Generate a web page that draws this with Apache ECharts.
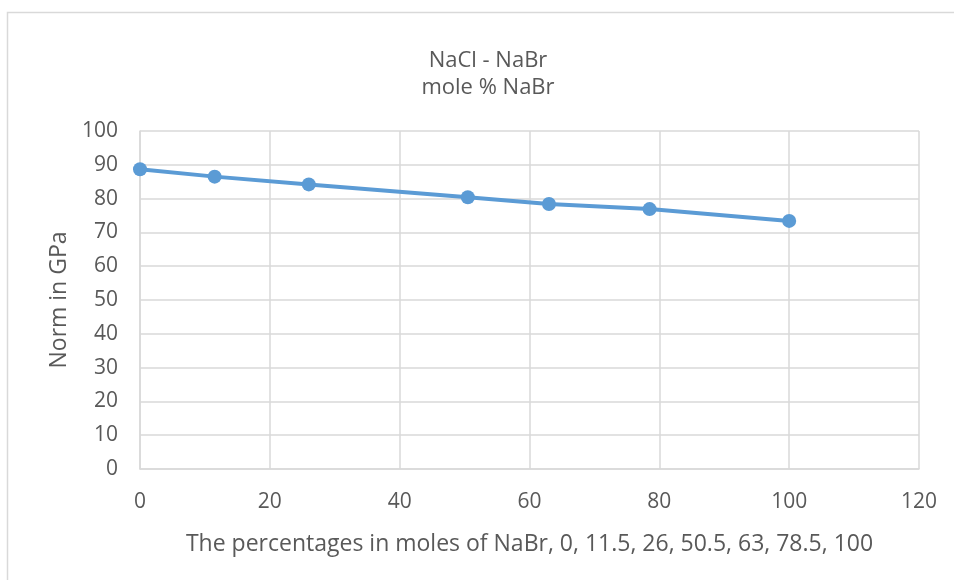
<!DOCTYPE html>
<html>
<head>
<meta charset="utf-8">
<script src="https://cdn.jsdelivr.net/npm/echarts@6/dist/echarts.min.js"></script>
<style>
  html, body { margin: 0; padding: 0; background: #ffffff; }
  #chart { width: 954px; height: 580px; }
</style>
</head>
<body>
<div id="chart"></div>
<script>
// Mole percentage of NaBr in the NaCl - NaBr mixed crystal
const molePercentNaBr = [0, 11.5, 26, 50.5, 63, 78.5, 100];
// Norm values in GPa
const normGPa = [88.7, 86.5, 84.2, 80.4, 78.4, 76.9, 73.4];

const titleLines = ['NaCl - NaBr', 'mole % NaBr'];
const xAxisTitle = 'The percentages in moles of NaBr, 0, 11.5, 26, 50.5, 63, 78.5, 100';
const yAxisTitle = 'Norm in GPa';

const textColor = '#595959';
const gridColor = '#d9d9d9';
const fontFamily = '"Open Sans", "Noto Sans", sans-serif';

const chart = echarts.init(document.getElementById('chart'));
chart.setOption({
  animation: false,
  backgroundColor: '#ffffff',
  graphic: [{
    type: 'rect',
    shape: { x: 7.5, y: 12.5, width: 1000, height: 1000 },
    style: { fill: 'none', stroke: gridColor, lineWidth: 1.5 },
    silent: true
  }],
  title: {
    text: titleLines.join('\n'),
    left: 483,
    textAlign: 'center',
    top: 42,
    textStyle: {
      color: textColor,
      fontFamily: fontFamily,
      fontWeight: 'normal',
      fontSize: 22,
      lineHeight: 27
    }
  },
  grid: { left: 140, right: 35, top: 131, bottom: 111 },
  xAxis: {
    type: 'value',
    min: 0,
    max: 120,
    interval: 20,
    name: xAxisTitle,
    nameLocation: 'middle',
    nameGap: 64,
    nameTextStyle: { color: textColor, fontFamily: fontFamily, fontSize: 23 },
    axisLine: { show: true, lineStyle: { color: gridColor, width: 1.5 } },
    axisTick: { show: false },
    axisLabel: { color: textColor, fontFamily: fontFamily, fontSize: 21, margin: 23 },
    splitLine: { show: true, lineStyle: { color: gridColor, width: 1.5 } }
  },
  yAxis: {
    type: 'value',
    min: 0,
    max: 100,
    interval: 10,
    name: yAxisTitle,
    nameLocation: 'middle',
    nameGap: 68,
    nameRotate: 90,
    nameTextStyle: { color: textColor, fontFamily: fontFamily, fontSize: 23 },
    axisLine: { show: true, lineStyle: { color: gridColor, width: 1.5 } },
    axisTick: { show: false },
    axisLabel: { color: textColor, fontFamily: fontFamily, fontSize: 21, margin: 22 },
    splitLine: { show: true, lineStyle: { color: gridColor, width: 1.5 } }
  },
  series: [{
    type: 'line',
    data: molePercentNaBr.map((x, i) => [x, normGPa[i]]),
    lineStyle: { color: '#5b9bd5', width: 4 },
    itemStyle: { color: '#5b9bd5' },
    symbol: 'circle',
    symbolSize: 14,
    showSymbol: true
  }]
});
</script>
</body>
</html>
